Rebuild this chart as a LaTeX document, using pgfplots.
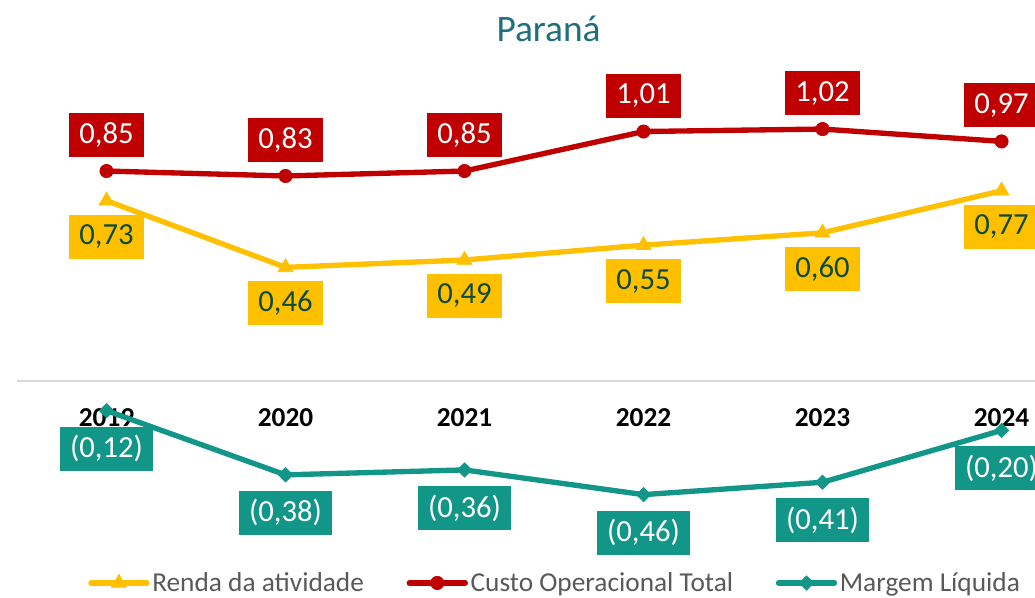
\documentclass[border=0pt]{standalone}
\usepackage{pgfplots}
\pgfplotsset{compat=1.18}
\usepackage{fontspec}
\setmainfont{Carlito}
\definecolor{cred}{RGB}{192,0,0}
\definecolor{cgold}{RGB}{255,192,0}
\definecolor{cteal}{RGB}{17,150,136}
\definecolor{ctitle}{RGB}{31,111,126}
\definecolor{cdark}{RGB}{14,74,58}
\definecolor{cleg}{RGB}{89,89,89}
\definecolor{cgrid}{RGB}{217,217,217}
\newcommand\lbl{\fontsize{23}{26}\selectfont}
\begin{document}
\begin{tikzpicture}
\begin{axis}[
  scale only axis,
  x=134.25pt, y=185.25pt,
  xmin=-0.595, xmax=5.187, ymin=-0.8745, ymax=1.5425,
  clip=false,
  axis x line=middle,
  axis y line=none,
  axis line style={draw=none},
  x axis line style={draw=none},
  major tick length=0pt,
  xtick={0,1,2,3,4,5},
  xticklabels={2019,2020,2021,2022,2023,2024},
  ytick=\empty,
  xticklabel style={anchor=center, yshift=-27.75pt, font=\fontsize{20.5}{24}\selectfont\bfseries, text=black},
  /pgf/number format/assume math mode=true,
  title={Paraná},
  title style={at={(0.53,0.939)}, anchor=center, font=\fontsize{28}{32}\selectfont, text=ctitle},
  point meta=explicit symbolic,
  legend columns=3,
  legend style={at={(0.085,0.0235)}, anchor=west, draw=none, fill=none, inner sep=0pt,
    font=\fontsize{20.5}{24}\selectfont, text=cleg,
    nodes={inner xsep=1pt, inner ysep=2pt},
    /tikz/every even column/.append style={column sep=31pt},
    /tikz/every odd column/.append style={column sep=1pt}},
  legend cell align=left,
  legend image code/.code={\draw[#1, line cap=round, mark repeat=2, mark phase=2] plot coordinates {(0pt,0pt) (21pt,0pt) (42pt,0pt)};},
]
\addplot[forget plot, draw=cgrid, line width=1.5pt] coordinates {(-0.5,0) (5.187,0)};

\addplot[color=cgold, line width=4pt, mark=triangle*, mark size=6.5pt,
  mark options={line width=0.5pt, fill=cgold},
  nodes near coords,
  every node near coord/.append style={anchor=center, yshift=-27pt, fill=cgold, text=cdark,
    font=\lbl, inner xsep=7.5pt, inner ysep=0pt, minimum height=33pt}]
  table[x=x, y=y, meta=lab] {
x y lab
0 0.73 0,73
1 0.46 0,46
2 0.49 0,49
3 0.55 0,55
4 0.60 0,60
5 0.77 0,77
};
\addlegendentry{Renda da atividade}

\addplot[color=cred, line width=4pt, mark=*, mark size=5pt,
  mark options={line width=0.5pt, fill=cred},
  nodes near coords,
  every node near coord/.append style={anchor=center, yshift=27pt, fill=cred, text=white,
    font=\lbl, inner xsep=7.5pt, inner ysep=0pt, minimum height=33pt}]
  table[x=x, y=y, meta=lab] {
x y lab
0 0.85 0,85
1 0.83 0,83
2 0.85 0,85
3 1.01 1,01
4 1.02 1,02
5 0.97 0,97
};
\addlegendentry{Custo Operacional Total}

\addplot[color=cteal, line width=4pt, mark=square*, mark size=3.8pt,
  mark options={line width=0.5pt, fill=cteal, rotate=45},
  nodes near coords,
  every node near coord/.append style={anchor=center, yshift=-28.5pt, fill=cteal, text=white,
    font=\lbl, inner xsep=7.5pt, inner ysep=0pt, minimum height=33pt}]
  table[x=x, y=y, meta=lab] {
x y lab
0 -0.12 (0,12)
1 -0.38 (0,38)
2 -0.36 (0,36)
3 -0.46 (0,46)
4 -0.41 (0,41)
5 -0.20 (0,20)
};
\addlegendentry{Margem Líquida}
\end{axis}
\pgfresetboundingbox
\path[use as bounding box] (current axis.south west) rectangle (current axis.north east);
\end{tikzpicture}
\end{document}
